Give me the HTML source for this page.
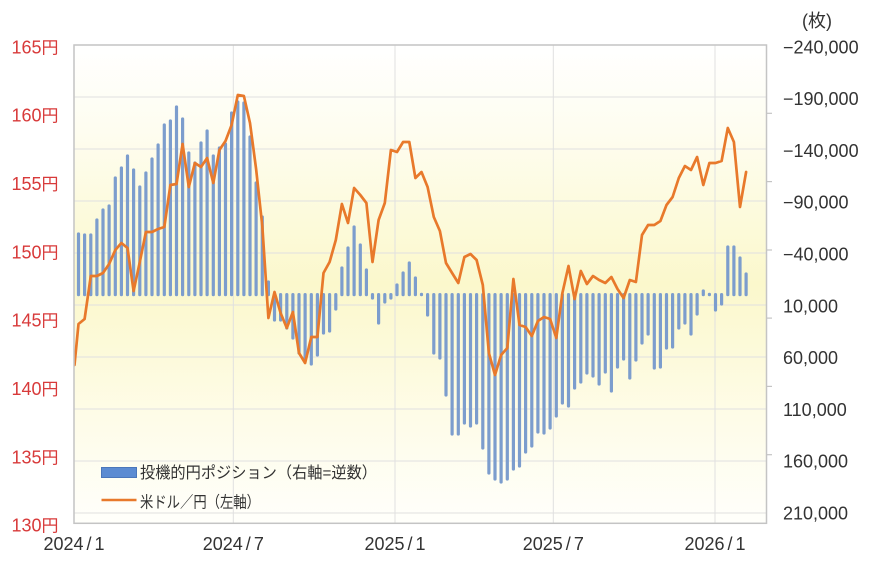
<!DOCTYPE html>
<html>
<head>
<meta charset="utf-8">
<style>
html,body{margin:0;padding:0;background:#fff;}
svg{display:block;}
</style>
</head>
<body>
<svg width="871" height="565" viewBox="0 0 871 565" xmlns="http://www.w3.org/2000/svg">
<defs>
<linearGradient id="bg" x1="0" y1="0" x2="0" y2="1">
<stop offset="0" stop-color="#ffffff"/>
<stop offset="0.18" stop-color="#fefdf0"/>
<stop offset="0.5" stop-color="#fbf8cc"/>
<stop offset="0.78" stop-color="#fefce8"/>
<stop offset="1" stop-color="#fffffb"/>
</linearGradient>
<clipPath id="pc"><rect x="74" y="45" width="692.5" height="478.3"/></clipPath>
</defs>
<rect x="74" y="45" width="692.5" height="478.3" fill="url(#bg)"/>
<g stroke="#e0e0e0" stroke-width="1">
<line x1="74" y1="97" x2="766.5" y2="97"/>
<line x1="74" y1="149" x2="766.5" y2="149"/>
<line x1="74" y1="201" x2="766.5" y2="201"/>
<line x1="74" y1="253" x2="766.5" y2="253"/>
<line x1="74" y1="305" x2="766.5" y2="305"/>
<line x1="74" y1="357" x2="766.5" y2="357"/>
<line x1="74" y1="409" x2="766.5" y2="409"/>
<line x1="74" y1="461" x2="766.5" y2="461"/>
<line x1="74" y1="513" x2="766.5" y2="513"/>
<line x1="233.3" y1="45" x2="233.3" y2="523.3"/>
<line x1="395" y1="45" x2="395" y2="523.3"/>
<line x1="553.3" y1="45" x2="553.3" y2="523.3"/>
<line x1="715" y1="45" x2="715" y2="523.3"/>
</g>
<g clip-path="url(#pc)">
<path fill="none" stroke="#7c9dcd" stroke-width="3.2" stroke-linecap="round" d="M78.5 294.6V234M84.6 294.6V235M90.8 294.6V235M96.9 294.6V220M103 294.6V210M109.1 294.6V206M115.3 294.6V178M121.4 294.6V168M127.5 294.6V156M133.6 294.6V170M139.8 294.6V187M145.9 294.6V173M152 294.6V159M158.1 294.6V145M164.3 294.6V125M170.4 294.6V121M176.5 294.6V107M182.6 294.6V119M188.8 294.6V153M194.9 294.6V163M201 294.6V143M207.1 294.6V131M213.3 294.6V156M219.4 294.6V148M225.5 294.6V144M231.6 294.6V113M237.8 294.6V102M243.9 294.6V103M250 294.6V137M256.1 294.6V183M262.3 294.6V217M268.4 294.6V282M274.5 294.6V320M280.6 294.6V320M286.8 294.6V328M292.9 294.6V338M299 294.6V353M305.1 294.6V358M311.3 294.6V364M317.4 294.6V355M323.5 294.6V333M329.6 294.6V331M335.8 294.6V309M341.9 294.6V268M348 294.6V248M354.1 294.6V227M360.3 294.6V245M366.4 294.6V270M372.5 294.6V298M378.6 294.6V323M384.8 294.6V302M390.9 294.6V298M397 294.6V285M403.1 294.6V273M409.3 294.6V263M415.4 294.6V278M421.5 294.6V294.4M427.6 294.6V315M433.8 294.6V353M439.9 294.6V358M446 294.6V395M452.1 294.6V434M458.3 294.6V434M464.4 294.6V423M470.5 294.6V426M476.6 294.6V423M482.8 294.6V448M488.9 294.6V473M495 294.6V479M501.1 294.6V482M507.3 294.6V479M513.4 294.6V469M519.5 294.6V466M525.6 294.6V452M531.8 294.6V446M537.9 294.6V432M544 294.6V433M550.1 294.6V428M556.3 294.6V416M562.4 294.6V403M568.5 294.6V406M574.6 294.6V388M580.8 294.6V382M586.9 294.6V373M593 294.6V376M599.1 294.6V384M605.3 294.6V372M611.4 294.6V391M617.5 294.6V367M623.6 294.6V359M629.8 294.6V378M635.9 294.6V360M642 294.6V343M648.1 294.6V334M654.3 294.6V368M660.4 294.6V367M666.5 294.6V348M672.6 294.6V347M678.8 294.6V328M684.9 294.6V323M691 294.6V334M697.1 294.6V314M703.3 294.6V291M709.4 294.6V294.4M715.5 294.6V310M721.6 294.6V304M727.8 294.6V247M733.9 294.6V247M740 294.6V258M746.1 294.6V274"/>
<polyline fill="none" stroke="#e8792b" stroke-width="2.7" stroke-linejoin="round" stroke-linecap="round" points="74.5,365 78.5,324 84.6,319 90.8,276 96.9,276 103,273 109.1,264 115.3,250 121.4,243 127.5,248 133.6,291 139.8,262 145.9,232 152,232 158.1,229 164.3,227 170.4,185 176.5,184 182.6,144 188.8,187 194.9,163 201,167 207.1,158 213.3,183 219.4,150 225.5,141 231.6,125 237.8,95 243.9,96 250,123 256.1,169 262.3,226 268.4,318 274.5,292 280.6,313 286.8,328 292.9,312 299,353 305.1,363 311.3,337 317.4,337 323.5,273 329.6,262 335.8,240 341.9,204 348,223 354.1,188 360.3,195 366.4,203 372.5,262 378.6,220 384.8,203 390.9,150 397,152 403.1,142 409.3,142 415.4,178 421.5,172 427.6,187 433.8,217 439.9,231 446,263 452.1,273 458.3,283 464.4,257 470.5,254 476.6,260 482.8,285 488.9,353 495,375 501.1,355 507.3,348 513.4,279 519.5,325 525.6,327 531.8,336 537.9,321 544,317 550.1,319 556.3,338 562.4,293 568.5,266 574.6,299 580.8,271 586.9,284 593,276 599.1,280 605.3,283 611.4,277 617.5,289 623.6,298 629.8,280 635.9,282 642,235 648.1,225 654.3,225 660.4,221 666.5,205 672.6,197 678.8,178 684.9,166 691,170 697.1,157 703.3,185 709.4,163 715.5,163 721.6,161 727.8,128 733.9,142 740,207 746.1,172"/>
</g>
<rect x="74" y="45" width="692.5" height="478.3" fill="none" stroke="#c4c4c4" stroke-width="1.5"/>
<g stroke="#c4c4c4" stroke-width="1.2">
<line x1="766.5" y1="113.3" x2="772" y2="113.3"/>
<line x1="766.5" y1="181.6" x2="772" y2="181.6"/>
<line x1="766.5" y1="250" x2="772" y2="250"/>
<line x1="766.5" y1="318.1" x2="772" y2="318.1"/>
<line x1="766.5" y1="386.4" x2="772" y2="386.4"/>
<line x1="766.5" y1="454.7" x2="772" y2="454.7"/>
</g>
<g font-family="'Liberation Sans', 'Noto Sans CJK JP', sans-serif" font-size="18" fill="#d83a3a" text-anchor="end">
<text x="58.5" y="53.3">165<tspan font-size="17" font-family="'Noto Sans CJK JP', sans-serif">円</tspan></text>
<text x="58.5" y="121.6">160<tspan font-size="17" font-family="'Noto Sans CJK JP', sans-serif">円</tspan></text>
<text x="58.5" y="190">155<tspan font-size="17" font-family="'Noto Sans CJK JP', sans-serif">円</tspan></text>
<text x="58.5" y="258.3">150<tspan font-size="17" font-family="'Noto Sans CJK JP', sans-serif">円</tspan></text>
<text x="58.5" y="326.7">145<tspan font-size="17" font-family="'Noto Sans CJK JP', sans-serif">円</tspan></text>
<text x="58.5" y="395">140<tspan font-size="17" font-family="'Noto Sans CJK JP', sans-serif">円</tspan></text>
<text x="58.5" y="463.3">135<tspan font-size="17" font-family="'Noto Sans CJK JP', sans-serif">円</tspan></text>
<text x="58.5" y="531.7">130<tspan font-size="17" font-family="'Noto Sans CJK JP', sans-serif">円</tspan></text>
</g>
<g font-family="'Liberation Sans', sans-serif" font-size="18" fill="#333">
<text x="783" y="53.3">−240,000</text>
<text x="783" y="105.1">−190,000</text>
<text x="783" y="156.9">−140,000</text>
<text x="783" y="208.7">−90,000</text>
<text x="783" y="260.5">−40,000</text>
<text x="783" y="312.3">10,000</text>
<text x="783" y="364.1">60,000</text>
<text x="783" y="415.9">110,000</text>
<text x="783" y="467.7">160,000</text>
<text x="783" y="519.5">210,000</text>
</g>
<text x="802" y="27" font-family="'Liberation Sans', 'Noto Sans CJK JP', sans-serif" font-size="18" fill="#333">(枚)</text>
<g font-family="'Liberation Sans', sans-serif" font-size="18" fill="#333" text-anchor="middle">
<text x="74" y="550">2024<tspan dx="3">/</tspan><tspan dx="3">1</tspan></text>
<text x="233.3" y="550">2024<tspan dx="3">/</tspan><tspan dx="3">7</tspan></text>
<text x="395" y="550">2025<tspan dx="3">/</tspan><tspan dx="3">1</tspan></text>
<text x="553.3" y="550">2025<tspan dx="3">/</tspan><tspan dx="3">7</tspan></text>
<text x="715" y="550">2026<tspan dx="3">/</tspan><tspan dx="3">1</tspan></text>
</g>
<rect x="101.5" y="467.5" width="35" height="10" fill="#5b8bd2" stroke="#4a76ba" stroke-width="1"/>
<line x1="101.5" y1="500" x2="136.5" y2="500" stroke="#e8792b" stroke-width="2.6"/>
<g font-family="'Liberation Sans', 'Noto Sans CJK JP', sans-serif" font-size="16" fill="#333">
<text x="140" y="477.8" textLength="237" lengthAdjust="spacingAndGlyphs">投機的円ポジション（右軸=逆数）</text>
<text x="140" y="507.5" textLength="120" lengthAdjust="spacingAndGlyphs">米ドル／円（左軸）</text>
</g>
</svg>
</body>
</html>
